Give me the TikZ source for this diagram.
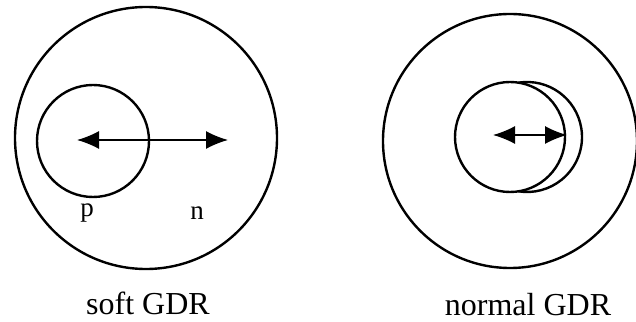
\documentclass[tikz,border=0pt]{standalone}
\usepackage{fontspec}
\setmainfont{Liberation Serif}
\usetikzlibrary{arrows.meta, positioning}

\begin{document}
\begin{tikzpicture}[
    shell/.style={draw, circle, line width=1.2pt, inner sep=0pt},
    arr/.style={{Latex[length=11pt, width=9pt]}-{Latex[length=11pt, width=9pt]}, line width=0.7pt},
    plab/.style={font=\fontsize{13.5}{15}\selectfont},
    caption/.style={font=\fontsize{16}{19}\selectfont},
    x=0.5pt, y=0.5pt
  ]
  \useasboundingbox (0, 0) rectangle (636, 321);

  % soft GDR: proton sphere and neutron skin apart
  \node[shell, minimum size=131pt] (softOut) at (146, 183) {};
  \node[shell, minimum size=56pt] (softIn) at (93, 180) {};
  \coordinate (softL) at (77, 181);
  \coordinate (softR) at (228, 181);
  \draw[arr] (softL) -- (softR);
  \node[plab] (pLab) at (87, 108) {p};
  \node[plab] (nLab) at (197, 108) {n};
  \node[caption] (softCap) at (148, 18) {soft GDR};

  % normal GDR: the two spheres shifted a little
  \node[shell, minimum size=127pt] (normOut) at (510, 180) {};
  \node[shell, minimum size=55pt] (normIn) at (510, 184) {};
  \draw[line width=1.2pt] ([shift={(99:55)}]527, 184) arc[start angle=99, end angle=-99, radius=27.5pt];
  \coordinate (normL) at (493, 186);
  \coordinate (normR) at (567, 186);
  \draw[arr] (normL) -- (normR);
  \node[caption] (normCap) at (528, 16) {normal GDR};
\end{tikzpicture}
\end{document}
